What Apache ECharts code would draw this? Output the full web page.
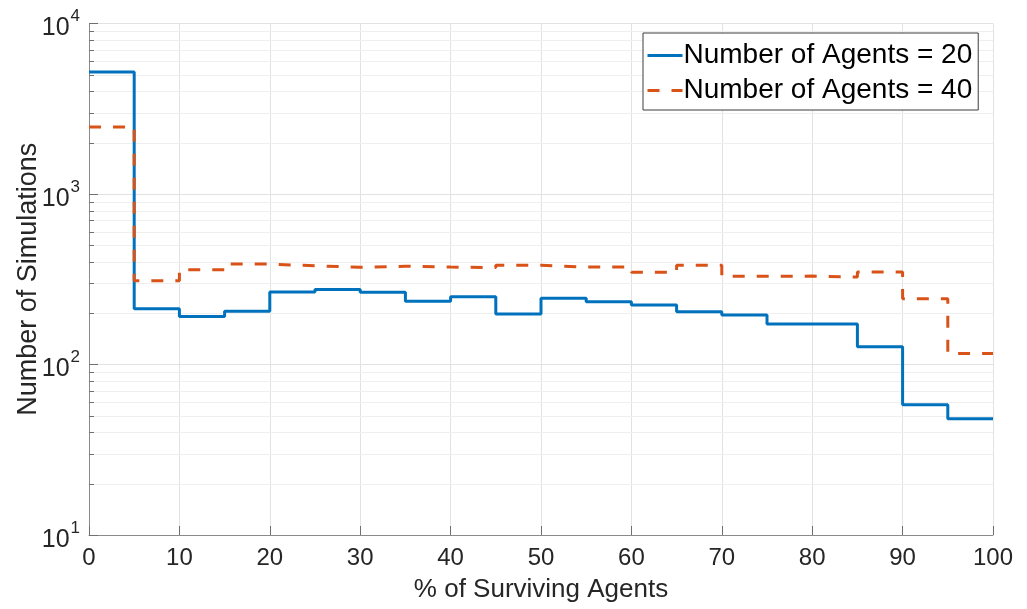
<!DOCTYPE html>
<html>
<head>
<meta charset="utf-8">
<script src="https://cdn.jsdelivr.net/npm/echarts@6/dist/echarts.min.js"></script>
<style>
  html, body { margin: 0; padding: 0; background: #fff; }
  #chart { width: 1027px; height: 609px; }
</style>
</head>
<body>
<div id="chart"></div>
<script>
// Histogram bin edges (% of surviving agents), 5% wide bins
const binEdges = [0, 5, 10, 15, 20, 25, 30, 35, 40, 45, 50, 55, 60, 65, 70, 75, 80, 85, 90, 95, 100];

// Number of simulations per bin
const agents20 = [5200, 212, 191, 205, 266, 275, 265, 235, 250, 198, 245, 233, 223, 204, 195, 173, 173, 127, 58, 48];
const agents40 = [2470, 310, 360, 388, 379, 372, 377, 373, 370, 382, 373, 373, 347, 382, 329, 330, 326, 349, 243, 116];

const seriesNames = ['Number of Agents = 20', 'Number of Agents = 40'];
const xTicks = [0, 10, 20, 30, 40, 50, 60, 70, 80, 90, 100];
const yDecades = [10, 100, 1000, 10000];

// Minor log gridlines at 2..9 x each decade
const minorValues = [];
for (let d = 10; d < 10000; d *= 10) {
  for (let k = 2; k <= 9; k++) minorValues.push(d * k);
}

// Stairs: each bin value is held until the next edge; last value repeated at the final edge
function stairs(values) {
  const pts = values.map((v, i) => [binEdges[i], v]);
  pts.push([binEdges[binEdges.length - 1], values[values.length - 1]]);
  return pts;
}

const FONT = '"Liberation Sans", Arial, Helvetica, sans-serif';
const TEXT = '#262626';

const chart = echarts.init(document.getElementById('chart'), null, { renderer: 'canvas' });

chart.setOption({
  animation: false,
  backgroundColor: '#ffffff',
  grid: { left: 89, right: 34, top: 23.5, bottom: 74, containLabel: false, outerBoundsMode: 'none' },
  legend: {
    orient: 'vertical',
    left: 643,
    top: 33,
    padding: [8, 6, 5, 3],
    itemGap: 6,
    itemWidth: 35,
    itemHeight: 14,
    backgroundColor: '#ffffff',
    borderColor: '#3c3c3c',
    borderWidth: 1,
    borderRadius: 0,
    itemStyle: { opacity: 0 },
    lineStyle: { width: 3 },
    textStyle: { fontFamily: FONT, fontSize: 28, color: '#000', lineHeight: 29, padding: [0, 0, 0, -4] },
    data: seriesNames
  },
  xAxis: {
    type: 'value',
    min: 0,
    max: 100,
    interval: 10,
    name: '% of Surviving Agents',
    nameLocation: 'middle',
    nameGap: 42,
    nameMoveOverlap: false,
    nameTextStyle: { fontFamily: FONT, fontSize: 26, color: TEXT },
    axisLine: { show: true, lineStyle: { color: '#8a8a8a', width: 1 } },
    axisTick: { show: true, inside: true, length: 9, lineStyle: { color: '#707070' } },
    axisLabel: {
      fontFamily: FONT, fontSize: 24, color: TEXT, margin: 11,
      formatter: v => (xTicks.indexOf(v) >= 0 ? String(v) : '')
    },
    splitLine: { show: true, lineStyle: { color: '#e2e2e2', width: 1 } }
  },
  yAxis: {
    type: 'log',
    logBase: 10,
    min: 10,
    max: 10000,
    name: 'Number of Simulations',
    nameLocation: 'middle',
    nameGap: 47,
    nameMoveOverlap: false,
    nameTextStyle: { fontFamily: FONT, fontSize: 27, color: TEXT },
    axisLine: { show: true, lineStyle: { color: '#8a8a8a', width: 1 } },
    axisTick: { show: true, inside: true, length: 9, lineStyle: { color: '#707070' } },
    axisLabel: {
      margin: 9,
      formatter: v => {
        const e = Math.round(Math.log10(v));
        return yDecades.indexOf(Math.pow(10, e)) >= 0 ? '{b|10}{s|' + e + '}' : '';
      },
      rich: {
        b: { fontFamily: FONT, fontSize: 25, color: TEXT, padding: [10, 0, 0, 0] },
        s: { fontFamily: FONT, fontSize: 17, color: TEXT, padding: [0, 0, 14, 1] }
      }
    },
    splitLine: { show: true, lineStyle: { color: '#e2e2e2', width: 1 } }
  },
  series: [
    {
      // minor log grid + minor ticks on the left axis
      name: 'minor',
      type: 'custom',
      silent: true,
      z: 1,
      data: minorValues.map(v => [0, v]),
      encode: { x: 0, y: 1 },
      renderItem: (params, api) => {
        const cs = params.coordSys;
        const y = Math.round(api.coord([0, api.value(1)])[1]) + 0.5;
        return {
          type: 'group',
          children: [
            {
              type: 'line',
              shape: { x1: cs.x, y1: y, x2: cs.x + cs.width, y2: y },
              style: { stroke: '#efefef', lineWidth: 1 }
            },
            {
              type: 'line',
              shape: { x1: cs.x, y1: y, x2: cs.x + 5, y2: y },
              style: { stroke: '#707070', lineWidth: 1 }
            }
          ]
        };
      }
    },
    {
      name: seriesNames[0],
      type: 'line',
      step: 'end',
      data: stairs(agents20),
      symbol: 'none',
      z: 3,
      lineStyle: { color: '#0072BD', width: 3 },
      itemStyle: { color: '#0072BD' }
    },
    {
      name: seriesNames[1],
      type: 'line',
      step: 'end',
      data: stairs(agents40),
      symbol: 'none',
      z: 4,
      lineStyle: { color: '#D95319', width: 3, type: [12, 12] },
      itemStyle: { color: '#D95319' }
    }
  ]
});
</script>
</body>
</html>
